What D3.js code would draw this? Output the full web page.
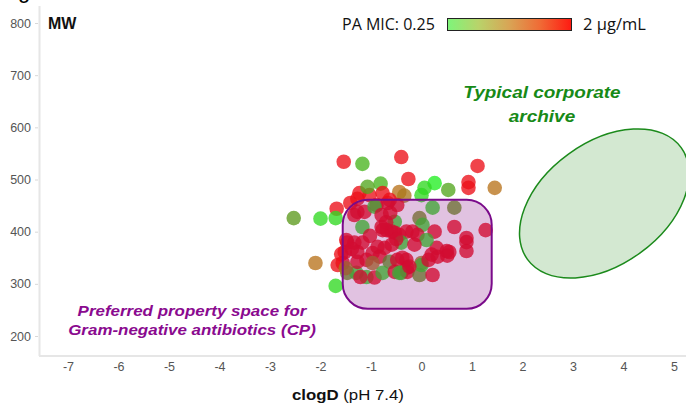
<!DOCTYPE html>
<html>
<head>
<meta charset="utf-8">
<script src="https://cdn.jsdelivr.net/npm/d3@7"></script>
<style>
  html, body { margin: 0; padding: 0; background: #fff; }
  svg { display: block; }
</style>
</head>
<body>
<svg id="chart" width="686" height="403"></svg>
<script>
// Compound data: clogD (pH 7.4), molecular weight and PA MIC (µg/mL)
const clogD = [
  -1.54, -1.17, -0.40, 1.11, -0.26, -0.81, 0.26, 0.06, 0.00, 0.53,
  0.93, 0.93, 1.45, -0.44, -0.34, -1.23, -1.03, -0.77, -0.63, -1.27,
  -1.68, -1.70, -2.00, -2.53, -2.10, -1.70, 0.22, 0.65, -0.04, 0.02,
  0.65, 1.27, -1.66, -1.33, -1.27, -1.13, -0.89, -0.67, -0.48, -0.93,
  -0.79, -0.53, -1.17, -0.79, -0.69, -0.53, -0.44, -0.18, -0.08, -0.30,
  0.26, 0.89, 0.89, 0.89, 0.50, 0.51, 0.30, 0.10, -0.40, -0.14,
  -1.47, -1.33, -1.17, -1.52, -1.56, -0.87, -0.73, -0.59, -0.97, -0.83,
  -1.09, -0.97, -0.63, -0.48, -0.30, -0.28, 0.00, 0.20, 0.32, 0.55,
  -1.47, -1.29, -1.09, -0.93, -0.77, -0.53, -0.40, -0.28, -0.04, 0.22,
  0.00, -1.27, -1.49, -1.27, -0.77, -0.59, -0.38, -0.44, -0.24, -1.41,
  -1.59, -1.07, -0.62, 0.14, -1.21, -0.50, -1.38, -1.02, -0.70, -1.50
];
const mw = [
  534, 530, 543, 526, 501, 492, 493, 484, 470, 480,
  495, 484, 484, 476, 469, 474, 470, 474, 461, 463,
  444, 426, 425, 426, 340, 296, 446, 446, 426, 413,
  409, 403, 336, 432, 438, 438, 451, 455, 451, 448,
  432, 419, 409, 409, 403, 398, 394, 400, 394, 400,
  400, 388, 380, 363, 363, 354, 369, 384, 379, 375,
  379, 379, 379, 361, 340, 371, 369, 375, 359, 352,
  346, 340, 342, 346, 346, 331, 340, 356, 352, 361,
  321, 321, 313, 312, 321, 323, 321, 323, 317, 317,
  336, 361, 384, 342, 403, 400, 350, 321, 333, 455,
  357, 486, 436, 346, 313, 386, 367, 392, 418, 330
];
const mic = [
  2, 0.4, 2, 2, 2, 0.4, 0.25, 0.3, 0.3, 0.45,
  2, 2, 1, 1, 0.9, 2, 2, 2, 2, 2,
  2, 0.3, 0.3, 0.5, 1, 0.3, 0.3, 0.55, 0.6, 0.3,
  2, 2, 2, 2, 2, 2, 2, 2, 2, 0.3,
  2, 0.3, 0.3, 2, 2, 2, 2, 2, 2, 2,
  2, 2, 2, 2, 2, 2, 2, 0.3, 0.3, 2,
  2, 2, 2, 2, 2, 2, 2, 2, 2, 2,
  2, 0.9, 0.5, 2, 2, 2, 0.9, 2, 2, 2,
  0.55, 0.3, 0.3, 2, 0.3, 2, 0.35, 2, 0.55, 2,
  0.3, 2, 2, 2, 2, 2, 2, 0.3, 2, 2,
  2, 0.45, 2, 2, 2, 2, 2, 2, 2, 0.9
];

const xTicks = [-7, -6, -5, -4, -3, -2, -1, 0, 1, 2, 3, 4, 5];
const yTicks = [200, 300, 400, 500, 600, 700, 800];

// Colour ramp shown in the legend (MIC 0.25 -> 2 µg/mL)
const legendStops = ["#7ef57a", "#b9d36a", "#d9a455", "#f06a35", "#ff1a12"];

// Region annotations, in data units
const cpBox = { x0: -1.56, x1: 1.39, y0: 252, y1: 461 };
const archiveCenter = { x: 3.62, y: 454 };

const svg = d3.select("#chart");
const W = 686;
const chartFont = "Liberation Sans, Arial, sans-serif";

const x = d3.scaleLinear().domain([-7, 5]).range([68, 674]);
const y = d3.scaleLinear().domain([200, 800]).range([336, 23]);

const color = d3.scaleLog()
  .domain([0.25, 0.5, 1, 2])
  .range(["#22ee22", "#5c9a1e", "#b8731c", "#ec1018"])
  .interpolate(d3.interpolateRgb);

const points = clogD.map((v, i) => ({ x: v, y: mw[i], m: mic[i] }));

// Text placed at (tx, ty) with a horizontal stretch factor
function wideText(parent, tx, ty, sx) {
  return parent.append("g")
    .attr("transform", `translate(${tx},${ty}) scale(${sx},1)`)
    .append("text").attr("x", 0).attr("y", 0);
}

// Cut-off slide title above the chart
svg.append("text")
  .attr("x", 18).attr("y", -2)
  .attr("font-family", chartFont)
  .attr("font-size", 22)
  .attr("fill", "#000")
  .text("g");

// Axis frame lines
svg.append("line")
  .attr("x1", 39.5).attr("x2", 39.5).attr("y1", 6).attr("y2", 356)
  .attr("stroke", "#e6e6e6").attr("stroke-width", 2);
svg.append("line")
  .attr("x1", 39).attr("x2", W).attr("y1", 356).attr("y2", 356)
  .attr("stroke", "#e6e6e6").attr("stroke-width", 2);

// Y axis
const yAxis = svg.append("g")
  .attr("transform", "translate(38,0)")
  .call(d3.axisLeft(y).tickValues(yTicks).tickSize(3).tickPadding(4).tickFormat(d3.format("d")));
yAxis.select(".domain").remove();
yAxis.selectAll(".tick line").attr("stroke", "#d8d8d8");
yAxis.selectAll(".tick text")
  .attr("fill", "#555")
  .attr("font-family", chartFont)
  .attr("font-size", 12.5);

// X axis
const xAxis = svg.append("g")
  .attr("transform", "translate(0,356)")
  .call(d3.axisBottom(x).tickValues(xTicks).tickSize(0).tickPadding(6).tickFormat(d3.format("d")));
xAxis.select(".domain").remove();
xAxis.selectAll(".tick text")
  .attr("fill", "#555")
  .attr("font-family", chartFont)
  .attr("font-size", 12.5)
  .text(d => (d < 0 ? "-" + Math.abs(d) : d));

// Axis titles
svg.append("text")
  .attr("x", 48).attr("y", 29)
  .attr("font-family", chartFont)
  .attr("font-size", 16).attr("font-weight", "bold")
  .attr("fill", "#111")
  .text("MW");

const xt = wideText(svg, 292, 400, 1.12)
  .attr("font-family", chartFont)
  .attr("font-size", 15)
  .attr("fill", "#111");
xt.append("tspan").attr("font-weight", "bold").text("clogD");
xt.append("tspan").text(" (pH 7.4)");

// Typical corporate archive region
svg.append("ellipse")
  .attr("cx", x(archiveCenter.x)).attr("cy", y(archiveCenter.y))
  .attr("rx", 95).attr("ry", 61)
  .attr("transform", `rotate(-36 ${x(archiveCenter.x)} ${y(archiveCenter.y)})`)
  .attr("fill", "#d3e8d1")
  .attr("stroke", "#1b8a1b").attr("stroke-width", 1.5);

// Compounds
svg.append("g").selectAll("circle")
  .data(points)
  .join("circle")
  .attr("cx", d => x(d.x))
  .attr("cy", d => y(d.y))
  .attr("r", 7.3)
  .attr("fill", d => color(d.m))
  .attr("fill-opacity", 0.78);

// Preferred CP property space (translucent overlay)
svg.append("rect")
  .attr("x", x(cpBox.x0)).attr("y", y(cpBox.y1))
  .attr("width", x(cpBox.x1) - x(cpBox.x0))
  .attr("height", y(cpBox.y0) - y(cpBox.y1))
  .attr("rx", 25).attr("ry", 25)
  .attr("fill", "#800080").attr("fill-opacity", 0.24)
  .attr("stroke", "#7a0a8a").attr("stroke-width", 2);

// Annotations
const cpLines = ["Preferred property space for", "Gram-negative antibiotics (CP)"];
cpLines.forEach((t, i) => {
  wideText(svg, 192, 316 + i * 19, 1.13)
    .attr("text-anchor", "middle")
    .attr("font-family", chartFont).attr("font-size", 15)
    .attr("font-weight", "bold").attr("font-style", "italic")
    .attr("fill", "#8a0a8f")
    .text(t);
});

const archiveLines = ["Typical corporate", "archive"];
archiveLines.forEach((t, i) => {
  wideText(svg, 542, 98 + i * 24, 1.15)
    .attr("text-anchor", "middle")
    .attr("font-family", chartFont).attr("font-size", 16.5)
    .attr("font-weight", "bold").attr("font-style", "italic")
    .attr("fill", "#178a17")
    .text(t);
});

// Legend
const defs = svg.append("defs");
const grad = defs.append("linearGradient").attr("id", "micGrad");
grad.selectAll("stop")
  .data(legendStops)
  .join("stop")
  .attr("offset", (d, i) => (i / (legendStops.length - 1)) * 100 + "%")
  .attr("stop-color", d => d);

const legendFont = "Open Sans, Liberation Sans, sans-serif";
svg.append("text")
  .attr("x", 342).attr("y", 30)
  .attr("font-family", legendFont).attr("font-size", 16)
  .attr("fill", "#111")
  .text("PA MIC: 0.25");
svg.append("rect")
  .attr("x", 447.5).attr("y", 18.5).attr("width", 124).attr("height", 12)
  .attr("fill", "url(#micGrad)")
  .attr("stroke", "#222").attr("stroke-width", 1);
svg.append("text")
  .attr("x", 583).attr("y", 30)
  .attr("font-family", legendFont).attr("font-size", 16.5)
  .attr("fill", "#111")
  .text("2 µg/mL");
</script>
</body>
</html>
